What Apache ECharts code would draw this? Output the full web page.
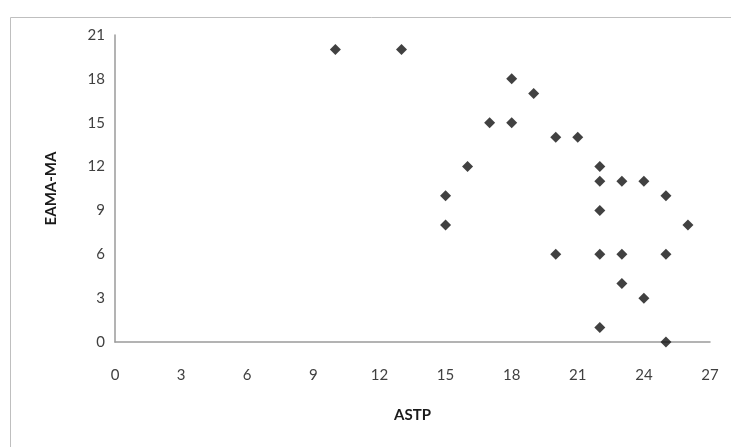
<!DOCTYPE html>
<html>
<head>
<meta charset="utf-8">
<script src="https://cdn.jsdelivr.net/npm/echarts@6/dist/echarts.min.js"></script>
<style>
  html, body { margin: 0; padding: 0; background: #fff; }
  #chart { width: 731px; height: 447px; }
</style>
</head>
<body>
<div id="chart"></div>
<script>
const astp   = [10, 13, 18, 19, 17, 18, 20, 21, 16, 15, 15, 22, 22, 23, 24, 25, 22, 26, 20, 22, 23, 25, 23, 24, 22, 25]
const eamaMa = [20, 20, 18, 17, 15, 15, 14, 14, 12, 10,  8, 12, 11, 11, 11, 10,  9,  8,  6,  6,  6,  6,  4,  3,  1,  0]

const chart = echarts.init(document.getElementById('chart'), null, { renderer: 'canvas' })

const labelStyle = { color: '#404040', fontFamily: 'Lato, sans-serif', fontSize: 15 }
const nameStyle  = { color: '#1a1a1a', fontFamily: 'Lato, sans-serif', fontSize: 15, fontWeight: 'bold' }

chart.setOption({
  animation: false,
  graphic: [{
    type: 'rect',
    shape: { x: 10.5, y: 17.5, width: 760, height: 460 },
    style: { fill: 'none', stroke: '#bfbfbf', lineWidth: 1 },
    silent: true,
  }],
  grid: { left: 115, right: 21, top: 35, bottom: 105 },
  xAxis: {
    type: 'value',
    min: 0, max: 27, interval: 3,
    name: 'ASTP',
    nameLocation: 'middle',
    nameGap: 66,
    nameTextStyle: nameStyle,
    axisLine: { lineStyle: { color: '#9a9a9a', width: 1.5 } },
    axisTick: { show: false },
    splitLine: { show: false },
    axisLabel: { ...labelStyle, margin: 26 },
  },
  yAxis: {
    type: 'value',
    min: 0, max: 21, interval: 3,
    name: 'EAMA-MA',
    nameLocation: 'middle',
    nameGap: 56,
    nameTextStyle: nameStyle,
    axisLine: { show: true, lineStyle: { color: '#9a9a9a', width: 1.5 } },
    axisTick: { show: false },
    splitLine: { show: false },
    axisLabel: { ...labelStyle, margin: 10 },
  },
  series: [{
    type: 'scatter',
    symbol: 'diamond',
    symbolSize: 11,
    itemStyle: { color: '#111' },
    data: astp.map((x, i) => [x, eamaMa[i]]),
  }],
})
</script>
</body>
</html>
